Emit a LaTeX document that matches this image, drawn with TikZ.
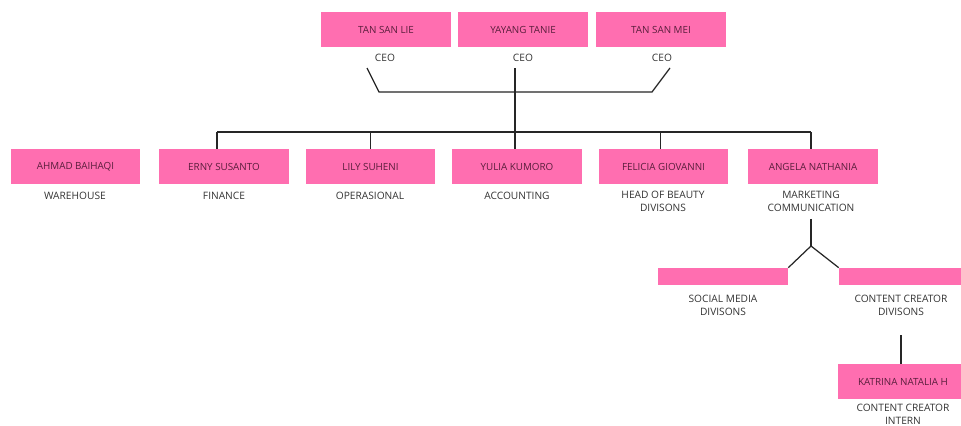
\documentclass[tikz,border=0pt]{standalone}
\usepackage{fontspec}
\setmainfont{Open Sans}
\usetikzlibrary{positioning}

\definecolor{boxpink}{HTML}{FF6EB0}
\definecolor{nametext}{HTML}{5A1E3C}
\definecolor{roletext}{HTML}{333333}

\tikzset{
	namebox/.style={fill=boxpink, minimum width=2.6cm, minimum height=0.7cm, inner sep=0pt,
		text=nametext, font=\fontsize{5.6}{6.7}\selectfont},
	thinbox/.style={fill=boxpink, minimum width=2.6cm, minimum height=0.34cm, inner sep=0pt},
	role/.style={text=roletext, align=center, inner sep=1pt, font=\fontsize{5.8}{7.2}\selectfont},
	link/.style={draw=black!85, line width=0.7pt}
}

\begin{document}
\begin{tikzpicture}[x=0.02cm,y=-0.02cm]

	\clip (0,0) rectangle (961,426);
	\fill[white] (0,0) rectangle (961,426);

	% owners
	\node[namebox] (lie) at (386,29.5) {TAN SAN LIE};
	\node[namebox] (yayang) at (523,29.5) {YAYANG TANIE};
	\node[namebox] (mei) at (661,29.5) {TAN SAN MEI};
	\node[role] (rlie) at (385,58) {CEO};
	\node[role] (ryayang) at (523,58) {CEO};
	\node[role] (rmei) at (662,58) {CEO};

	% heads
	\node[namebox] (ahmad) at (75.5,166.5) {AHMAD BAIHAQI};
	\node[namebox] (erny) at (224,166.5) {ERNY SUSANTO};
	\node[namebox] (lily) at (370.5,166.5) {LILY SUHENI};
	\node[namebox] (yulia) at (517,166.5) {YULIA KUMORO};
	\node[namebox] (felicia) at (663.5,166.5) {FELICIA GIOVANNI};
	\node[namebox] (angela) at (813,166.5) {ANGELA NATHANIA};
	\node[role] (rahmad) at (75,196) {WAREHOUSE};
	\node[role] (rerny) at (224,196) {FINANCE};
	\node[role] (rlily) at (370,196) {OPERASIONAL};
	\node[role] (ryulia) at (517,196) {ACCOUNTING};
	\node[role] (rfelicia) at (663,201.5) {HEAD OF BEAUTY\\DIVISONS};
	\node[role] (rangela) at (811,201.5) {MARKETING\\COMMUNICATION};

	% marketing divisions
	\node[thinbox] (social) at (723,276.5) {};
	\node[thinbox] (content) at (904,276.5) {};
	\node[role] (rsocial) at (723,305.5) {SOCIAL MEDIA\\DIVISONS};
	\node[role] (rcontent) at (901,305.5) {CONTENT CREATOR\\DIVISONS};
	\node[namebox] (katrina) at (903,381.5) {KATRINA NATALIA H};
	\node[role] (rkatrina) at (903,414) {CONTENT CREATOR\\INTERN};

	% joints
	\coordinate (tl) at (367,68);
	\coordinate (tr) at (670,68);
	\coordinate (jl) at (379,92);
	\coordinate (jr) at (652,92);
	\coordinate (top) at (515,68);
	\coordinate (bus) at (515,132);
	\coordinate (fork) at (811,246);

	\draw[link] (tl) -- (jl) -- (jr) -- (tr);
	\draw[link] (top) -- (bus);
	\draw[link] ([xshift=-7*0.02cm]erny.north |- bus) -- ([xshift=-2*0.02cm]angela.north |- bus);
	\foreach \n/\dx in {erny/-7,lily/0,yulia/-2,felicia/-3,angela/-2}
		\draw[link] ([xshift=\dx*0.02cm]\n.north) -- ([xshift=\dx*0.02cm]\n.north |- bus);

	\draw[link, shorten <=3pt] (rangela.south) -- (fork);
	\draw[link] (social.north east) -- (fork) -- (content.north west);
	\draw[link, shorten <=10pt] (rcontent.south) -- (katrina.north -| rcontent.south);

\end{tikzpicture}
\end{document}
